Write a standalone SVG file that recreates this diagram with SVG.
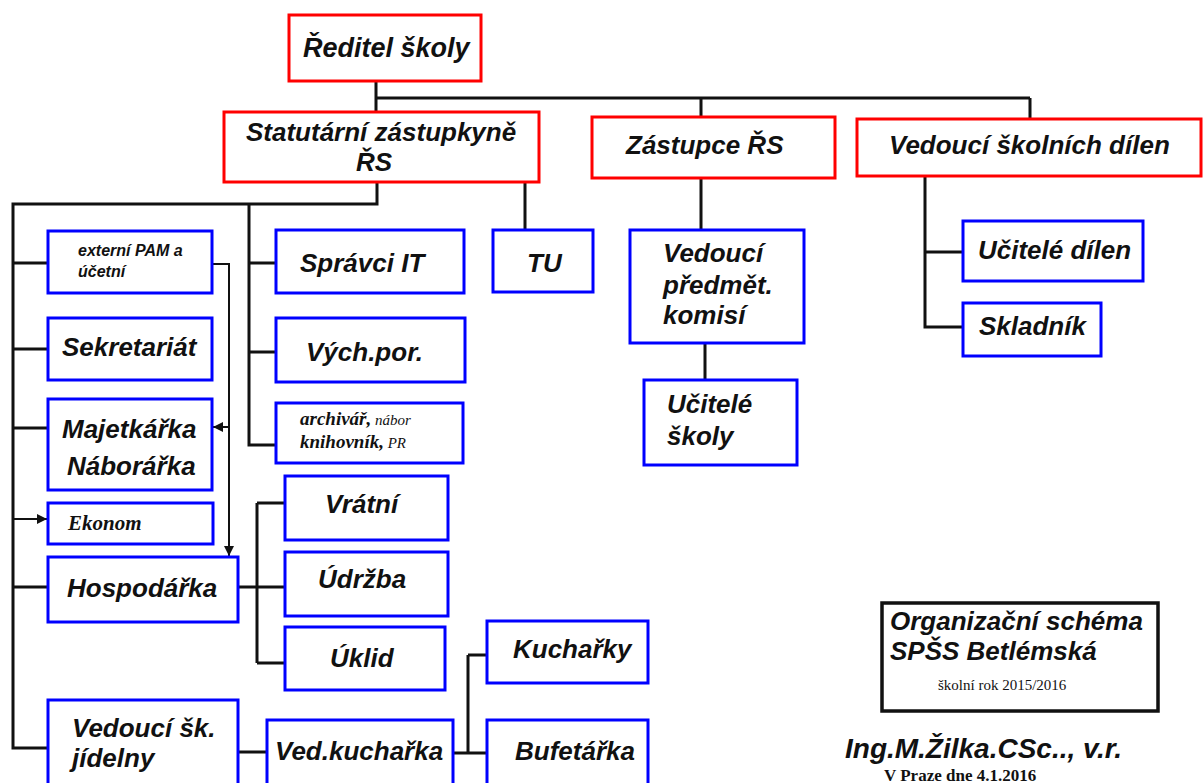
<svg xmlns="http://www.w3.org/2000/svg" width="1203" height="783" viewBox="0 0 1203 783">
<defs>
<style>
.r{fill:#fff;stroke:#ff0000;stroke-width:3}
.b{fill:#fff;stroke:#0000ff;stroke-width:3}
.k{fill:#fff;stroke:#111;stroke-width:3.5}
.t{font-family:"Liberation Sans",Arial,sans-serif;font-weight:bold;font-style:italic;font-size:26px;fill:#111}
.s{font-family:"Liberation Serif","Times New Roman",serif;fill:#111}
.c{fill:none;stroke:#111;stroke-width:3}
.a{fill:none;stroke:#111;stroke-width:2}
</style>
<marker id="ar" markerUnits="userSpaceOnUse" markerWidth="10" markerHeight="10" refX="10" refY="5" orient="auto">
<path d="M0,0 L10,5 L0,10 z" fill="#111"/>
</marker>
</defs>
<rect width="1203" height="783" fill="#fff"/>
<g id="connectors">
<path class="c" d="M376,81 V112 M376,98 H1030 M701,98 V117 M1030,98 V119"/>
<path class="c" d="M377,182 V204 H13 V748 H48 M249,204 V445 H276 M525,182 V230"/>
<path class="c" d="M13,263 H48 M13,349 H48 M13,428 H48 M13,587 H48"/>
<path class="a" d="M13,519 H47" marker-end="url(#ar)"/>
<path class="c" d="M249,263 H276 M249,352 H276"/>
<path class="c" d="M238,587 H285 M257,503 V663 M257,503 H285 M257,663 H285"/>
<path class="c" d="M238,752 H267 M453,753 H487 M468,655 V753 M468,655 H487"/>
<path class="c" d="M701,178 V230 M705,343 V380"/>
<path class="c" d="M925,176 V327 H963 M925,252 H963"/>
<path class="a" d="M212,264 H229 V556" marker-end="url(#ar)"/>
<path class="a" d="M229,427 H213" marker-end="url(#ar)"/>
</g>
<g id="reditel"><rect class="r" x="289" y="15" width="192" height="66"/><text class="t" x="303" y="57" style="font-size:27px">Ředitel školy</text></g>
<g id="statutarni"><rect class="r" x="224" y="112" width="315" height="70"/><text class="t" x="246" y="141">Statutární zástupkyně</text><text class="t" x="356" y="171">ŘS</text></g>
<g id="zastupce"><rect class="r" x="592" y="117" width="243" height="61"/><text class="t" x="626" y="154">Zástupce ŘS</text></g>
<g id="vedouci-dilen"><rect class="r" x="857" y="119" width="344" height="57"/><text class="t" x="889" y="154">Vedoucí školních dílen</text></g>
<g id="externi"><rect class="b" x="48" y="231" width="164" height="62"/><text class="t" x="78" y="256" style="font-size:16px">externí PAM a</text><text class="t" x="78" y="277" style="font-size:16px">účetní</text></g>
<g id="sekretariat"><rect class="b" x="48" y="318" width="164" height="62"/><text class="t" x="62" y="356">Sekretariát</text></g>
<g id="majetkarka"><rect class="b" x="48" y="399" width="164" height="91"/><text class="t" x="62" y="438">Majetkářka</text><text class="t" x="67" y="475">Náborářka</text></g>
<g id="ekonom"><rect class="b" x="48" y="503" width="165" height="41"/><text class="s" x="68" y="530" style="font-size:21px;font-weight:bold;font-style:italic">Ekonom</text></g>
<g id="hospodarka"><rect class="b" x="48" y="557" width="190" height="65"/><text class="t" x="67" y="597">Hospodářka</text></g>
<g id="vedouci-jidelny"><rect class="b" x="48" y="700" width="190" height="90"/><text class="t" x="72" y="737">Vedoucí šk.</text><text class="t" x="72" y="767">jídelny</text></g>
<g id="spravci-it"><rect class="b" x="276" y="230" width="188" height="63"/><text class="t" x="300" y="272">Správci IT</text></g>
<g id="vych-por"><rect class="b" x="276" y="318" width="189" height="64"/><text class="t" x="306" y="361">Vých.por.</text></g>
<g id="archivar"><rect class="b" x="276" y="403" width="187" height="60"/><text class="s" x="300" y="425"><tspan style="font-size:19px;font-weight:bold;font-style:italic">archivář,</tspan><tspan style="font-size:15px;font-style:italic"> nábor</tspan></text><text class="s" x="300" y="448"><tspan style="font-size:19px;font-weight:bold;font-style:italic">knihovník,</tspan><tspan style="font-size:15px;font-style:italic"> PR</tspan></text></g>
<g id="vratni"><rect class="b" x="285" y="476" width="163" height="64"/><text class="t" x="325" y="513">Vrátní</text></g>
<g id="udrzba"><rect class="b" x="285" y="552" width="163" height="64"/><text class="t" x="318" y="588">Údržba</text></g>
<g id="uklid"><rect class="b" x="285" y="627" width="160" height="63"/><text class="t" x="330" y="667">Úklid</text></g>
<g id="ved-kucharka"><rect class="b" x="267" y="720" width="186" height="70"/><text class="t" x="275" y="760">Ved.kuchařka</text></g>
<g id="kucharky"><rect class="b" x="487" y="621" width="161" height="62"/><text class="t" x="513" y="658">Kuchařky</text></g>
<g id="bufetarka"><rect class="b" x="487" y="720" width="161" height="70"/><text class="t" x="515" y="760">Bufetářka</text></g>
<g id="tu"><rect class="b" x="493" y="230" width="100" height="62"/><text class="t" x="527" y="272">TU</text></g>
<g id="vedouci-komisi"><rect class="b" x="630" y="230" width="174" height="113"/><text class="t" x="663" y="262">Vedoucí</text><text class="t" x="663" y="294">předmět.</text><text class="t" x="663" y="324">komisí</text></g>
<g id="ucitele-skoly"><rect class="b" x="644" y="380" width="153" height="85"/><text class="t" x="667" y="413">Učitelé</text><text class="t" x="667" y="445">školy</text></g>
<g id="ucitele-dilen"><rect class="b" x="963" y="221" width="180" height="60"/><text class="t" x="978" y="259">Učitelé dílen</text></g>
<g id="skladnik"><rect class="b" x="963" y="303" width="138" height="53"/><text class="t" x="979" y="335">Skladník</text></g>
<g id="title"><rect class="k" x="882" y="603" width="276" height="108"/><text class="t" x="890" y="630">Organizační schéma</text><text class="t" x="890" y="660">SPŠS Betlémská</text><text class="s" x="938" y="690" style="font-size:15px">školní rok 2015/2016</text></g>
<text class="t" x="845" y="758" style="font-size:28px">Ing.M.Žilka.CSc.., v.r.</text>
<text class="s" x="884" y="781" style="font-size:17px;font-weight:bold">V Praze dne 4.1.2016</text>
</svg>
